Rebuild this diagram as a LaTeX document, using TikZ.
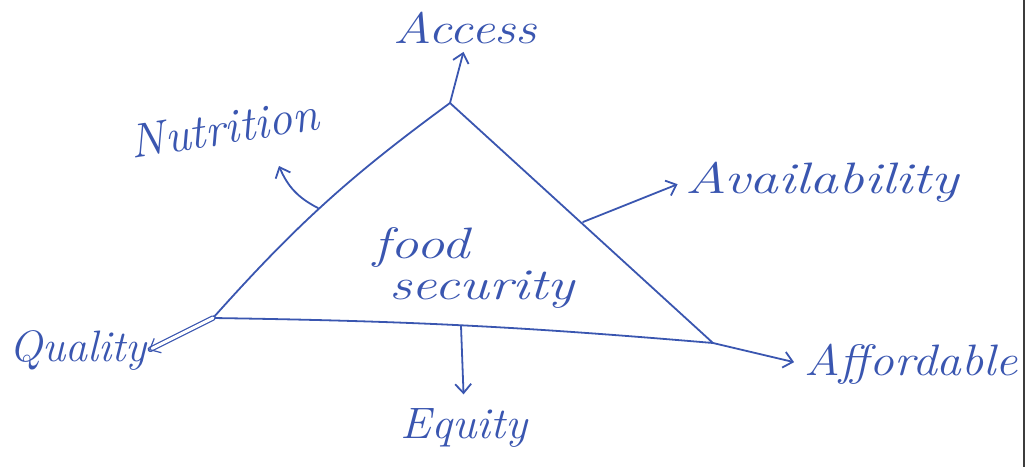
\documentclass[tikz,border=0pt]{standalone}
\usepackage{xcolor}
\usepackage{graphicx}
\usepackage{tikz}
\usetikzlibrary{arrows.meta,positioning,calc}
\definecolor{InkBlue}{HTML}{3A56B0}
\definecolor{EdgeGrey}{HTML}{3C3C3C}
\newcommand{\handw}[2][1.3]{\scalebox{#1}[1]{#2}}

\begin{document}
\begin{tikzpicture}[x=1pt,y=-1pt,>={Straight Barb[length=9pt,width=16pt]},
    lbl/.style={text=InkBlue,font=\fontsize{44}{46}\selectfont\itshape,inner sep=2pt},
    ink/.style={draw=InkBlue,line width=1.8pt,line cap=round,line join=round}]
  \useasboundingbox (0,0) rectangle (1030,467);
  \coordinate (apex) at (450,103);
  \coordinate (lft) at (213,318);
  \coordinate (rgt) at (713,343);
  \coordinate (nutfoot) at (318,208);
  \coordinate (nuttip) at (279,166);
  \coordinate (avlfoot) at (583,222);
  \coordinate (equfoot) at (461,326);
  \draw[ink] (lft) to[bend left=6] (apex) -- (rgt) to[bend right=2] (lft);
  \node[lbl,align=left] (fs) at (474,268)
      {\handw[1.28]{\shortstack[l]{food\\\hspace*{12pt}security}}};
  \node[lbl] (acc) at (465,28) {\handw[1.2]{Access}};
  \node[lbl,rotate=9,font=\fontsize{48}{50}\selectfont\itshape] (nut) at (224,128) {Nutrition};
  \node[lbl] (avl) at (822,182) {\handw{Availability}};
  \node[lbl] (qua) at (78,350) {Quality};
  \node[lbl] (equ) at (464,428) {\handw[1.05]{Equity}};
  \node[lbl] (aff) at (911,364) {\handw[1.12]{Affordable}};
  \draw[ink,->,shorten >=6pt] (apex) -- (acc.south);
  \draw[ink,->] (nutfoot) to[bend left=20] (nuttip);
  \draw[ink,->,shorten >=6pt] (avlfoot) -- (avl.west);
  \draw[ink,->,shorten >=12pt] (equfoot) -- (equ.north);
  \draw[ink,->,shorten >=8pt] (rgt) -- (aff.west);
  \draw[ink,->,double=white,double distance=3pt,line width=1.2pt] (lft) -- (qua.east);
  % frame edge of the scan
  \draw[EdgeGrey,line width=1.6pt] (1024,0) -- (1024,467);
\end{tikzpicture}
\end{document}
